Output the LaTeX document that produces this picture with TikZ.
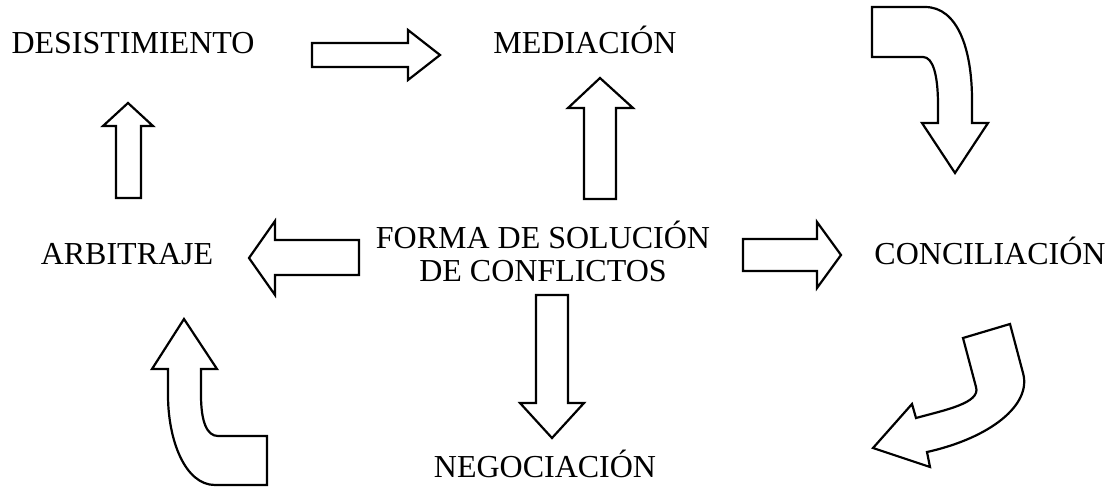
\documentclass[tikz,border=0pt]{standalone}
\usepackage{fontspec}
\setmainfont{Liberation Serif}
\usetikzlibrary{positioning}

\begin{document}
\begin{tikzpicture}[
	x=0.5pt, y=-0.5pt,
	every node/.style = {font=\fontsize{16}{16.5}\selectfont, inner sep=0pt},
	concept/.style = {anchor=base},
	centre concept/.style = {align=center, anchor=base},
	block arrow/.style = {draw, line width=1.1pt, line join=miter, fill=white}
]
\useasboundingbox (0,0) rectangle (1113,487);

\node[concept] (desist) at (133,54) {DESISTIMIENTO};
\node[concept] (mediac) at (585,54) {MEDIACIÓN};
\node[concept] (arbitr) at (127,264) {ARBITRAJE};
\node[concept] (concil) at (990,264) {CONCILIACIÓN};
\node[concept] (negoc) at (545,477) {NEGOCIACIÓN};
\node[centre concept] (forma) at (543,281) {FORMA DE SOLUCIÓN\\DE CONFLICTOS};

% straight arrows
\draw[block arrow] (312,43) -- (408,43) -- (408,30) -- (440,55) -- (408,80) -- (408,67) -- (312,67) -- cycle;
\draw[block arrow] (584,199) -- (584,108) -- (568,108) -- (600,78) -- (633,108) -- (616,108) -- (616,199) -- cycle;
\draw[block arrow] (116,198) -- (116,126) -- (103,126) -- (128,103) -- (153,126) -- (141,126) -- (141,198) -- cycle;
\draw[block arrow] (359,240) -- (275,240) -- (275,221) -- (249,258) -- (275,295) -- (275,275) -- (359,275) -- cycle;
\draw[block arrow] (743,239) -- (817,239) -- (817,222) -- (841,255) -- (817,288) -- (817,271) -- (743,271) -- cycle;
\draw[block arrow] (536,295) -- (568,295) -- (568,403) -- (584,403) -- (552,438) -- (520,403) -- (536,403) -- cycle;

% curved arrows
\draw[block arrow] (872,7) -- (925,7) .. controls (958,7) and (972,50) .. (972,100) -- (972,123) -- (988,123) -- (955,173) -- (922,123) -- (938,123) -- (938,105) .. controls (938,75) and (933,57) .. (923,57) -- (872,57) -- cycle;
\draw[block arrow] (963,338) -- (1010,324) -- (1023,373) .. controls (1032,405) and (990,438) .. (927,452) -- (930,467) -- (873,448) -- (912,404) -- (916,418) .. controls (945,410) and (981,403) .. (976,387) -- cycle;
\draw[block arrow] (184,319) -- (217,369) -- (201,369) -- (201,395) .. controls (201,422) and (207,436) .. (218,436) -- (267,436) -- (267,485) -- (215,485) .. controls (185,485) and (168,440) .. (168,395) -- (168,369) -- (152,369) -- cycle;

\end{tikzpicture}
\end{document}
